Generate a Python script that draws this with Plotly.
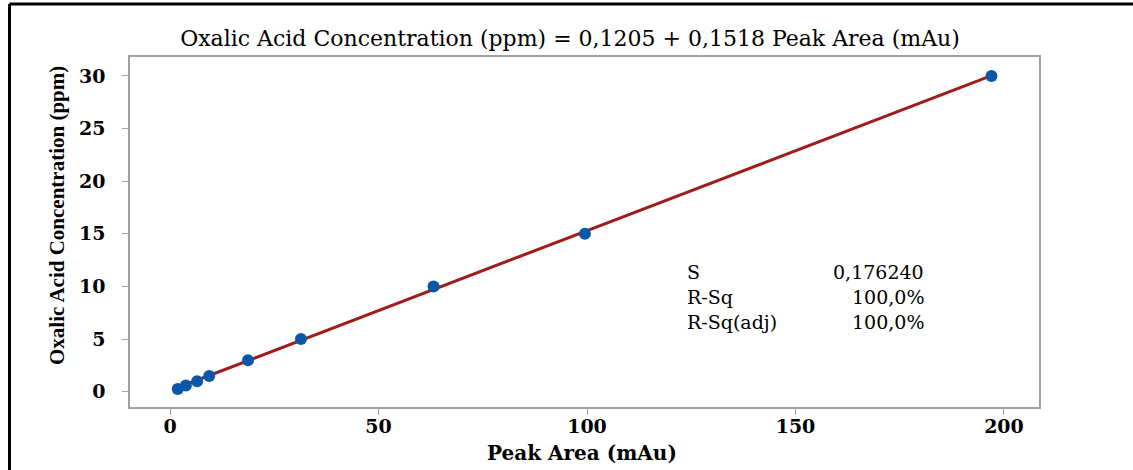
import plotly.graph_objects as go
import numpy as np

# Data
peak_area = [1.85, 3.8, 6.5, 9.4, 18.7, 31.4, 63.2, 99.5, 197.0]
concentration = [0.25, 0.6, 1.0, 1.5, 3.0, 5.0, 10.0, 15.0, 30.0]
intercept = 0.1205
slope = 0.1518
x_ticks = [0, 50, 100, 150, 200]
y_ticks = [0, 5, 10, 15, 20, 25, 30]
stats_labels = ["S", "R-Sq", "R-Sq(adj)"]
stats_values = ["0,176240", "100,0%", "100,0%"]

fit_x = np.array([min(peak_area), max(peak_area)])
fit_y = intercept + slope * fit_x

W, H = 1133, 470
L, R, T, B = 130, 1039, 57, 407

fig = go.Figure()
fig.add_trace(go.Scatter(x=fit_x, y=fit_y, mode="lines",
                         line=dict(color="#9E1C1C", width=3), showlegend=False,
                         hoverinfo="skip"))
fig.add_trace(go.Scatter(x=peak_area, y=concentration, mode="markers",
                         marker=dict(color="#0A56A8", size=12, line=dict(width=0)),
                         showlegend=False))

pw, ph = R - L, B - T
def px(x): return (x - L) / pw
def py(y): return (B - y) / ph

shapes = [
    dict(type="line", xref="paper", yref="paper", x0=px(9.5), x1=px(1140), y0=py(4), y1=py(4),
         line=dict(color="black", width=3)),
    dict(type="line", xref="paper", yref="paper", x0=px(9.5), x1=px(9.5), y0=py(4), y1=py(480),
         line=dict(color="black", width=3)),
]

ann = []
rows_y = [272, 297, 322]
for lab, val, yy in zip(stats_labels, stats_values, rows_y):
    ann.append(dict(x=px(685), y=py(yy), xref="paper", yref="paper", text=lab, showarrow=False,
                    xanchor="left", yanchor="middle",
                    font=dict(family="DejaVu Serif", size=19, color="black")))
    ann.append(dict(x=px(926), y=py(yy), xref="paper", yref="paper", text=val, showarrow=False,
                    xanchor="right", yanchor="middle",
                    font=dict(family="DejaVu Serif", size=19, color="black")))

# y axis title as annotation (condensed serif bold)
ann.append(dict(x=px(57), y=py(216), xref="paper", yref="paper",
                text="<b>Oxalic Acid Concentration (ppm)</b>", textangle=-90, showarrow=False,
                xanchor="center", yanchor="middle",
                font=dict(family="Liberation Serif", size=21, color="black")))
# x axis title
ann.append(dict(x=px(582), y=py(453), xref="paper", yref="paper",
                text="<b>Peak Area (mAu)</b>", showarrow=False,
                xanchor="center", yanchor="middle",
                font=dict(family="DejaVu Serif", size=20, color="black")))

axis_common = dict(showgrid=False, zeroline=False, showline=True, linecolor="#A0A0A0",
                   linewidth=1.5, mirror=True, ticks="outside", ticklen=6, tickcolor="#A0A0A0",
                   tickfont=dict(family="DejaVu Serif", size=19, color="black", weight="bold"))

fig.update_layout(
    width=W, height=H,
    margin=dict(l=L, r=W - R, t=T, b=H - B),
    paper_bgcolor="white", plot_bgcolor="white",
    title=dict(text="Oxalic Acid Concentration (ppm) = 0,1205 + 0,1518 Peak Area (mAu)",
               x=570 / W, xanchor="center", y=1 - 38 / H, yanchor="middle",
               yref="container",
               font=dict(family="DejaVu Serif", size=22, color="black")),
    xaxis=dict(range=[-9.6, 208.4], tickvals=x_ticks, ticklabelstandoff=-5, **axis_common),
    yaxis=dict(range=[-1.45, 31.8], tickvals=y_ticks, ticklabelstandoff=13, **axis_common),
    shapes=shapes, annotations=ann,
)

fig.write_html("out.html", config={"displayModeBar": False},
               post_script="document.body.style.margin='0';document.body.style.overflow='hidden';")
